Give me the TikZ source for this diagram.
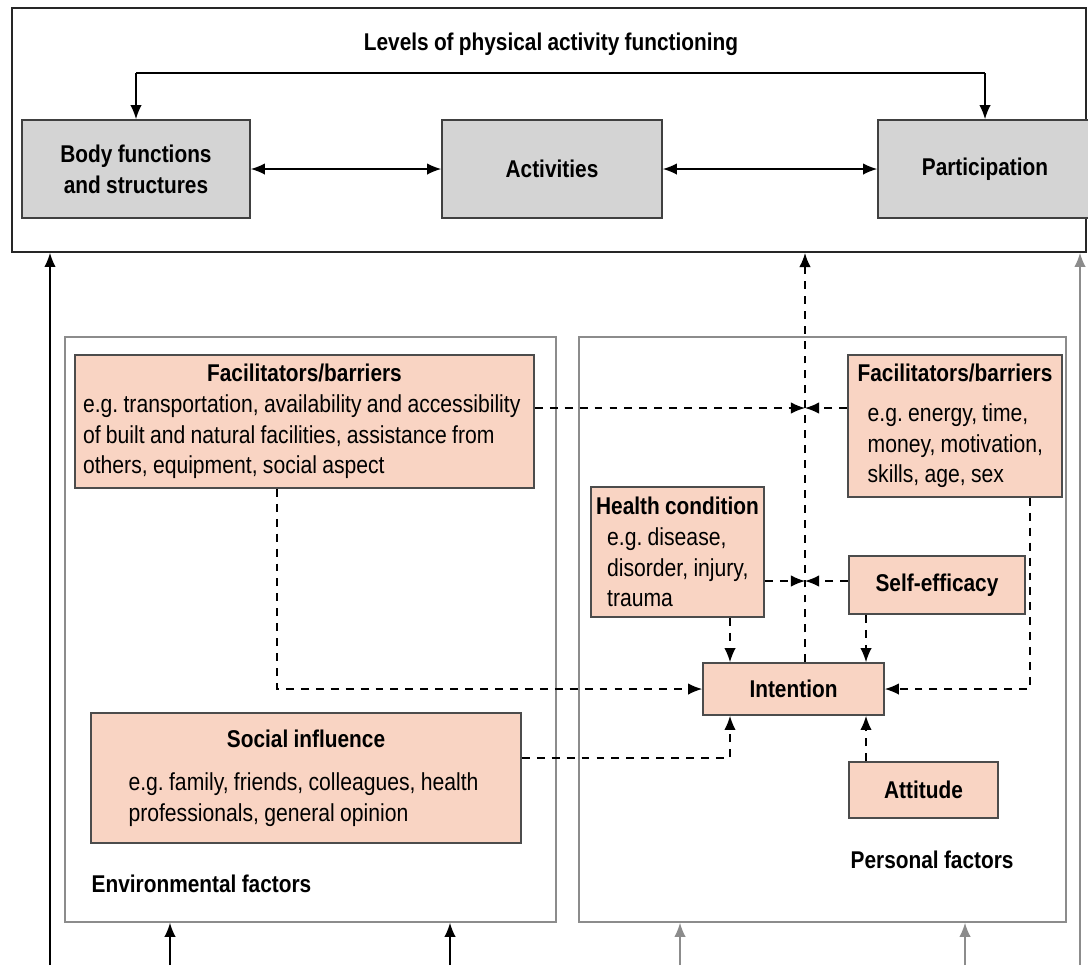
\documentclass[tikz,border=0pt]{standalone}
\usepackage{fontspec}
\setmainfont{Liberation Sans}[FakeStretch=0.86, WordSpace=0.9]
\frenchspacing
\hyphenpenalty=10000
\usepackage{tikz}
\usetikzlibrary{arrows.meta,positioning}
\definecolor{salmon}{HTML}{F9D4C3}
\definecolor{boxgray}{HTML}{D4D4D4}
\definecolor{railgray}{HTML}{8C8C8C}
\newcommand{\headfont}{\bfseries\fontsize{13.8}{17.5}\selectfont}
\tikzstyle{frame} = [rectangle, draw=black!85, line width=1pt]
\tikzstyle{group} = [rectangle, draw=railgray, line width=1pt]
\tikzstyle{level} = [rectangle, draw=black!75, fill=boxgray, line width=1pt,
    font=\headfont, align=center, minimum height=1.96cm]
\tikzstyle{factor} = [rectangle, draw=black!70, fill=salmon, line width=1pt,
    font=\fontsize{14}{17.5}\selectfont, align=left, inner sep=0pt]
\tikzstyle{dashline} = [dash pattern=on 4.5pt off 4pt]

\begin{document}
\begin{tikzpicture}[x=0.02cm, y=-0.02cm, >={Latex[length=8pt,width=6.5pt]}, line width=0.8pt]
  \path[use as bounding box, clip] (0,0) rectangle (1088,965);
  % Levels of functioning
  \node [frame, minimum width=21.48cm, minimum height=4.88cm] (levels) at (549,130) {};
  \node [font=\headfont] (title) at (551,44) {Levels of physical activity functioning};
  \node [level, minimum width=4.56cm] (body) at (136,169) {Body functions\\and structures};
  \node [level, minimum width=4.4cm] (act) at (552,169) {Activities};
  \node [level, minimum width=4.28cm] (part) at (985,169) {Participation};
  \coordinate (bar) at (0,73);
  % Factor groups
  \node [group, minimum width=9.82cm, minimum height=11.7cm] (env) at (310.5,629.5) {};
  \node [group, minimum width=9.74cm, minimum height=11.7cm] (pers) at (822.5,629.5) {};
  \node [anchor=west, inner sep=0pt, font=\headfont] (envlabel) at (91,884) {Environmental factors};
  \node [anchor=west, inner sep=0pt, font=\headfont] (perslabel) at (850,860) {Personal factors};
  % Place boxes
  \node [factor, minimum width=9.18cm, minimum height=2.66cm] (envfac) at (304.5,421.5)
  {\makebox[8.86cm][c]{\headfont Facilitators/barriers}\\
   e.g. transportation, availability and accessibility\\of built and natural facilities, assistance from\\others, equipment, social aspect};
  \node [factor, minimum width=4.28cm, minimum height=2.84cm] (persfac) at (955,426)
  {{\headfont Facilitators/barriers}\\[5pt]
   \hspace*{0.2cm}e.g. energy, time,\\\hspace*{0.2cm}money, motivation,\\\hspace*{0.2cm}skills, age, sex};
  \node [factor, minimum width=3.46cm, minimum height=2.6cm] (health) at (677.5,552)
  {{\headfont Health condition}\\
   \hspace*{0.22cm}e.g. disease,\\\hspace*{0.22cm}disorder, injury,\\\hspace*{0.22cm}trauma};
  \node [factor, minimum width=3.52cm, minimum height=1.16cm, align=center, font=\headfont] (self) at (937,585) {Self-efficacy};
  \node [factor, minimum width=3.62cm, minimum height=1.04cm, align=center, font=\headfont] (intent) at (793.5,689) {Intention};
  \node [factor, minimum width=8.6cm, minimum height=2.6cm] (social) at (306,778)
  {\makebox[7.1cm][c]{\headfont Social influence}\\[7pt]
   e.g. family, friends, colleagues, health\\professionals, general opinion};
  \node [factor, minimum width=2.98cm, minimum height=1.12cm, align=center, font=\headfont] (attitude) at (923.5,790) {Attitude};
  % Helper points for the dashed lines
  \coordinate (vx) at (805,253);
  \coordinate (fb) at (805,408);
  \coordinate (hs) at (805,581);
  \coordinate (ex) at (277,689);
  \coordinate (px) at (1030,689);
  \coordinate (hx) at (730,640);
  \coordinate (sx) at (866,640);
  \coordinate (sy) at (730,758);
  % Draw edges
  \draw [->] (bar -| body.north) -- (body.north);
  \draw (bar -| body.north) -- (bar -| part.north);
  \draw [->] (bar -| part.north) -- (part.north);
  \draw [<->] (body.east) -- (act.west);
  \draw [<->] (act.east) -- (part.west);
  \draw [->, dashline] (envfac.east |- fb) -- (fb);
  \draw [->, dashline] (persfac.west |- fb) -- (fb);
  \draw [->, dashline] (health.east |- hs) -- (hs);
  \draw [->, dashline] (self.west |- hs) -- (hs);
  \draw [->, dashline] (intent.north -| vx) -- (vx);
  \draw [->, dashline] (envfac.south -| ex) -- (ex) -- (intent.west);
  \draw [->, dashline] (persfac.south -| px) -- (px) -- (intent.east);
  \draw [->, dashline] (health.south -| hx) -- (intent.north -| hx);
  \draw [->, dashline] (self.south -| sx) -- (intent.north -| sx);
  \draw [->, dashline] (social.east |- sy) -- (sy) -- (intent.south -| sy);
  \draw [->, dashline] (attitude.north -| sx) -- (intent.south -| sx);
  % Rails into the top frame
  \draw [->] (50,965) -- (50,965 |- levels.south);
  \draw [->, draw=railgray] (1080,965) -- (1080,965 |- levels.south);
  \foreach \x in {170,450}
    \draw [->] (\x,965) -- (\x,965 |- env.south);
  \foreach \x in {680,965}
    \draw [->, draw=railgray] (\x,965) -- (\x,965 |- pers.south);
\end{tikzpicture}
\end{document}
